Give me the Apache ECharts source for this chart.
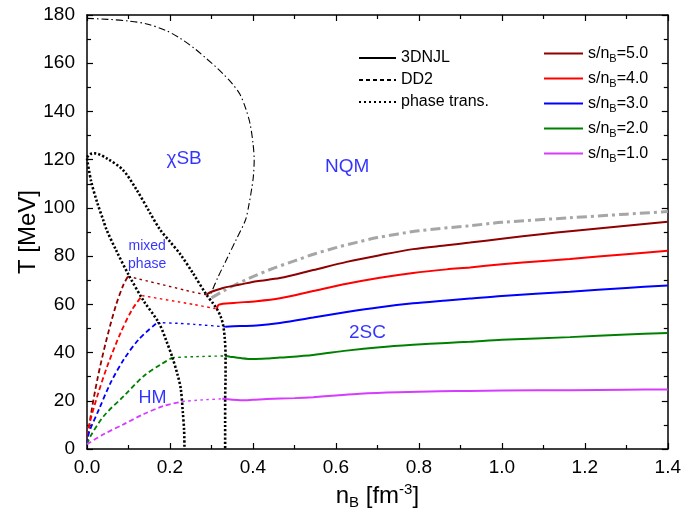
<!DOCTYPE html>
<html><head><meta charset="utf-8">
<script src="https://cdn.jsdelivr.net/npm/echarts@6/dist/echarts.min.js"></script>
<style>html,body{margin:0;padding:0;background:#fff}#c{width:684px;height:515px}</style>
</head><body><div id="c"></div>
<script>
// ---- data ----
const sLabels = ['5.0', '4.0', '3.0', '2.0', '1.0'];
const sColors = ['#8f0000', '#ff0000', '#0000ff', '#008000', '#d63cff'];

const chiralLine = [[0,178.6],[0.05,178.2],[0.1,177.5],[0.144,176.3],[0.19,173.6],[0.224,170.4],[0.26,166],[0.288,161.9],[0.31,158.6],[0.328,155.6],[0.35,151.5],[0.369,147],[0.383,141],[0.393,135],[0.4,127],[0.403,119.8],[0.401,113],[0.397,108],[0.39,101],[0.382,95],[0.36,87],[0.337,78.8],[0.315,71],[0.296,63.3]];
const crossover = [[0.3,62.7],[0.35,67.5],[0.4,71.5],[0.45,75],[0.5,78],[0.55,81],[0.6,83.5],[0.65,85.7],[0.7,87.7],[0.8,90.5],[0.923,92.6],[1.0,94],[1.164,95.9],[1.3,97.4],[1.4,98.5]];
const leftBoundary = [[0,120.5],[0.01,111],[0.025,102],[0.039,95],[0.047,91],[0.07,82.5],[0.101,72],[0.137,61.3],[0.173,52.4],[0.192,44.5],[0.206,37.9],[0.218,31],[0.226,25],[0.231,15.2],[0.234,8],[0.235,0]];
const rightBoundary = [[0,121],[0.008,122.3],[0.019,122.6],[0.05,120.3],[0.087,115.7],[0.12,107.4],[0.15,98.5],[0.176,91],[0.2,86],[0.224,81],[0.255,73],[0.288,64],[0.303,60.6],[0.313,58.1],[0.322,55],[0.328,51.5],[0.332,46],[0.334,38.6],[0.334,30],[0.333,20.7],[0.333,10],[0.333,0]];

const dd2S5 = [[0,2],[0.009,13.8],[0.025,28.9],[0.045,44],[0.069,59.2],[0.088,68.2],[0.099,71.6]];
const dd2S4 = [[0,2],[0.005,9.6],[0.025,22],[0.049,34.4],[0.081,48.2],[0.109,57.9],[0.133,63.6]];
const dd2S3 = [[0,2],[0.005,6.9],[0.029,16.5],[0.057,27.5],[0.089,37.2],[0.125,45.5],[0.169,52.4]];
const dd2S2 = [[0,2],[0.009,5.5],[0.041,13.8],[0.089,22],[0.137,30.3],[0.178,35.1],[0.206,37.9]];
const dd2S1 = [[0,2],[0.041,6.2],[0.089,10.3],[0.137,14.5],[0.186,17.9],[0.23,19.7]];

const ptS5 = [[0.099,71.6],[0.258,65],[0.288,64]];
const ptS4 = [[0.133,63.6],[0.258,59.9],[0.313,58.1]];
const ptS3 = [[0.169,52.4],[0.224,52.1],[0.258,51.7],[0.333,50.7]];
const ptS2 = [[0.206,37.9],[0.258,38.3],[0.333,38.6]];
const ptS1 = [[0.23,19.7],[0.28,20.4],[0.326,20.8]];

const njlS5 = [[0.288,64],[0.3,65.2],[0.328,66.8],[0.369,68.2],[0.409,69.6],[0.465,70.9],[0.545,74.2],[0.626,77.6],[0.706,80.4],[0.786,82.9],[0.867,84.5],[0.923,85.6],[1.0,87.2],[1.1,89.2],[1.164,90.3],[1.3,92.6],[1.4,94.3]];
const njlS4 = [[0.313,58.1],[0.318,59.9],[0.353,60.6],[0.409,61.3],[0.465,62.5],[0.545,65.5],[0.626,68.5],[0.706,71],[0.786,73],[0.867,74.5],[0.923,75.3],[1.0,76.6],[1.1,78],[1.164,78.8],[1.3,80.8],[1.4,82.2]];
const njlS3 = [[0.333,50.7],[0.369,51],[0.409,51.2],[0.465,52.3],[0.545,54.5],[0.626,56.8],[0.706,58.8],[0.786,60.4],[0.867,61.6],[0.923,62.4],[1.0,63.5],[1.164,65.2],[1.3,66.8],[1.4,67.8]];
const njlS2 = [[0.333,38.6],[0.345,38.3],[0.37,37.7],[0.4,37.3],[0.433,37.5],[0.465,37.9],[0.545,39],[0.626,40.8],[0.706,42.2],[0.786,43.2],[0.867,44],[0.923,44.5],[1.0,45.3],[1.164,46.4],[1.3,47.5],[1.4,48.1]];
const njlS1 = [[0.326,20.8],[0.35,20.4],[0.37,20.2],[0.4,20.4],[0.433,20.7],[0.5,21.1],[0.545,21.5],[0.6,22.2],[0.658,22.9],[0.75,23.5],[0.85,23.9],[0.923,24.1],[1.0,24.25],[1.164,24.4],[1.3,24.6],[1.4,24.7]];

const dd2Sets = [dd2S5, dd2S4, dd2S3, dd2S2, dd2S1];
const ptSets = [ptS5, ptS4, ptS3, ptS2, ptS1];
const njlSets = [njlS5, njlS4, njlS3, njlS2, njlS1];

const annoText = ['χSB', 'NQM', 'mixed\nphase', 'HM', '2SC'];
const annoX = [0.234, 0.627, 0.145, 0.158, 0.676];
const annoY = [120.2, 117, 80.4, 21.1, 48.3];
const annoSize = [19, 19, 14, 18, 19];

// ---- chart ----
const FONT = 'Liberation Sans, Arial, sans-serif';
const chart = echarts.init(document.getElementById('c'), null, {renderer: 'canvas'});

const series = [];
const line = (name, data, color, width, type, extra) => Object.assign({
  type: 'line', name, data, showSymbol: false, symbol: 'none', smooth: 0.3,
  lineStyle: {color, width, type}, itemStyle: {color}, animation: false, silent: true, z: 3
}, extra || {});

series.push(line('3DNJL', [], '#000', 2, 'solid'));
series.push(line('DD2', [], '#000', 2, [4, 3]));
series.push(line('phase trans.', [], '#000', 1.3, [2, 3]));

series.push(line('chiral', chiralLine, '#000', 1.1, [7, 3, 1.5, 3]));
series.push(line('crossover', crossover, '#a6a6a6', 3, [10, 4, 3, 4]));
series.push(line('leftB', leftBoundary, '#000', 2.6, [2.2, 2], {z: 4}));
series.push(line('rightB', rightBoundary, '#000', 2.6, [2.2, 2], {z: 4}));

for (let i = 0; i < 5; i++) {
  series.push(line('dd2_' + i, dd2Sets[i], sColors[i], 1.8, [5, 3]));
  series.push(line('pt_' + i, ptSets[i], sColors[i], 1.4, [2.5, 3.5], {smooth: 0.2}));
  series.push(line('s/nB=' + sLabels[i], njlSets[i], sColors[i], 2, 'solid'));
}

series.push({
  type: 'scatter', name: 'anno', silent: true, animation: false, symbolSize: 1,
  itemStyle: {color: 'rgba(0,0,0,0)'},
  data: annoText.map((t, i) => ({value: [annoX[i], annoY[i]], name: t,
    label: {fontSize: annoSize[i], lineHeight: annoSize[i] + 4}})),
  label: {show: true, position: 'inside', formatter: p => p.name, color: '#0000ff', fontFamily: FONT}
});

const axisCommon = {
  axisLine: {show: true, onZero: false, lineStyle: {color: '#000', width: 1.5}},
  axisTick: {show: true, inside: true, length: 6, lineStyle: {color: '#000', width: 1.2}},
  minorTick: {show: true, splitNumber: 2, length: 4, lineStyle: {color: '#000', width: 1.2}},
  splitLine: {show: false}
};

chart.setOption({
  backgroundColor: '#fff',
  animation: false,
  grid: {left: 87, right: 16, top: 15, bottom: 65, containLabel: false},
  legend: [{
    data: ['3DNJL', 'DD2', 'phase trans.'],
    orient: 'vertical', left: 353, top: 45, itemWidth: 37, itemHeight: 14, itemGap: 6,
    itemStyle: {opacity: 0},
    textStyle: {fontFamily: FONT, fontSize: 16, color: '#000'}, selectedMode: false
  }, {
    data: sLabels.map(s => 's/nB=' + s),
    orient: 'vertical', left: 538, top: 38, itemWidth: 39, itemHeight: 14, itemGap: 4,
    itemStyle: {opacity: 0},
    formatter: n => 's/n{sub|B}=' + n.split('=')[1],
    textStyle: {fontFamily: FONT, fontSize: 16, color: '#000',
      rich: {sub: {fontFamily: FONT, fontSize: 11, lineHeight: 11, padding: [10, 0, 0, 0], color: '#000'}}},
    selectedMode: false
  }],
  xAxis: [Object.assign({
    type: 'value', min: 0, max: 1.4, interval: 0.2, position: 'bottom',
    axisLabel: {fontFamily: FONT, fontSize: 19, color: '#000', margin: 9, formatter: v => v.toFixed(1)},
    name: 'n{sub|B} [fm{sup|-3}]', nameLocation: 'middle', nameGap: 35,
    nameTextStyle: {fontFamily: FONT, fontSize: 24, color: '#000',
      rich: {sub: {fontFamily: FONT, fontSize: 15, lineHeight: 15, padding: [13, 0, 0, 0]},
             sup: {fontFamily: FONT, fontSize: 15, lineHeight: 15, padding: [0, 0, 13, 0]}}}
  }, axisCommon), Object.assign({
    type: 'value', min: 0, max: 1.4, interval: 0.2, position: 'top', axisLabel: {show: false}
  }, axisCommon)],
  yAxis: [Object.assign({
    type: 'value', min: 0, max: 180, interval: 20, position: 'left',
    axisLabel: {fontFamily: FONT, fontSize: 19, color: '#000', margin: 12},
    name: 'T [MeV]', nameLocation: 'middle', nameGap: 47, nameMoveOverlap: false,
    nameTextStyle: {fontFamily: FONT, fontSize: 24, color: '#000'}
  }, axisCommon), Object.assign({
    type: 'value', min: 0, max: 180, interval: 20, position: 'right', axisLabel: {show: false}
  }, axisCommon)],
  series
});
</script></body></html>
